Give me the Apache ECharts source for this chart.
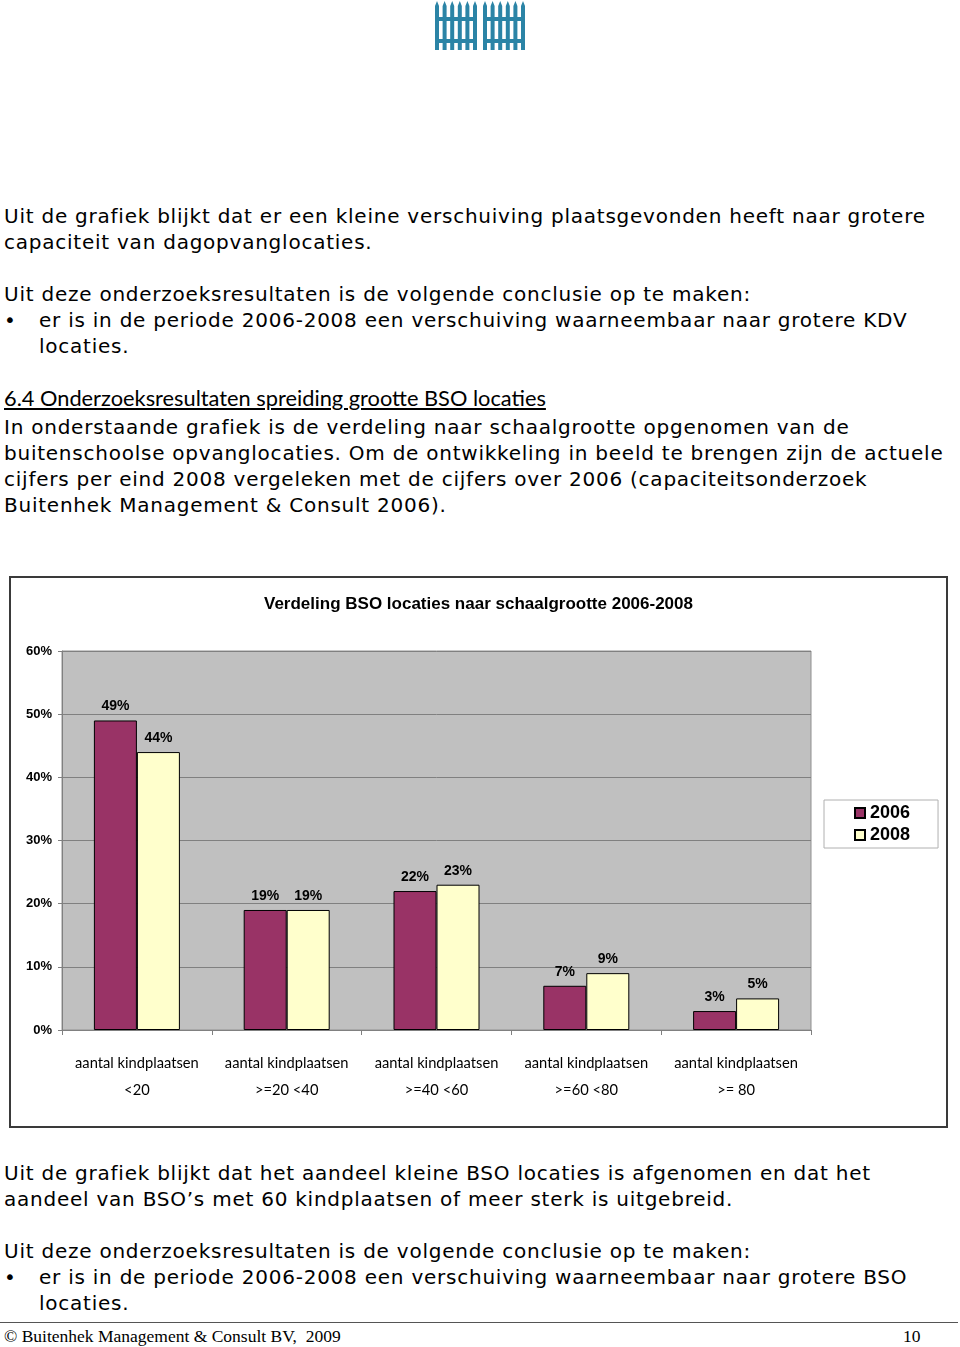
<!DOCTYPE html>
<html>
<head>
<meta charset="utf-8">
<script src="https://cdn.jsdelivr.net/npm/echarts@6/dist/echarts.min.js"></script>
<style>
  html, body { margin: 0; padding: 0; background: #fff; }
  .page { position: relative; width: 960px; height: 1347px; overflow: hidden; }
  .txt {
    position: absolute; left: 4px; white-space: nowrap;
    font-family: "DejaVu Sans", sans-serif; font-size: 20px; line-height: 26px; color: #000;
    letter-spacing: 0.76px;
  }
  .bullet { position: relative; padding-left: 35px; }
  .bullet:before { content: "\2022"; position: absolute; left: 0; }
  .kop {
    position: absolute; left: 4px; top: 385px; white-space: nowrap;
    font-family: Lato, "Open Sans", sans-serif; font-size: 21.8px; line-height: 26px;
    text-decoration: underline; color: #000;
  }
  .box { position: absolute; left: 9px; top: 576px; width: 935px; height: 548px; border: 2px solid #3a3a3a; }
  #chart { position: absolute; left: 11px; top: 578px; width: 935px; height: 548px; }
  .footline { position: absolute; left: 0; top: 1322px; width: 958px; height: 1px; background: #555; }
  .foot {
    position: absolute; top: 1325px; font-family: "Liberation Serif", serif; font-size: 17.5px; line-height: 22px;
  }
  #logo { position: absolute; left: 433px; top: 0; }
</style>
</head>
<body>
<div class="page">
  <svg id="logo" width="94" height="56"></svg>

  <div class="txt" style="top:203px">Uit de grafiek blijkt dat er een kleine verschuiving plaatsgevonden heeft naar grotere<br>capaciteit van dagopvanglocaties.</div>

  <div class="txt" style="top:281px">Uit deze onderzoeksresultaten is de volgende conclusie op te maken:
    <div class="bullet">er is in de periode 2006-2008 een verschuiving waarneembaar naar grotere KDV<br>locaties.</div>
  </div>

  <div class="kop">6.4 Onderzoeksresultaten spreiding grootte BSO locaties</div>

  <div class="txt" style="top:414px">In onderstaande grafiek is de verdeling naar schaalgrootte opgenomen van de<br>buitenschoolse opvanglocaties. Om de ontwikkeling in beeld te brengen zijn de actuele<br>cijfers per eind 2008 vergeleken met de cijfers over 2006 (capaciteitsonderzoek<br>Buitenhek Management &amp; Consult 2006).</div>

  <div class="box"></div>
  <div id="chart"></div>

  <div class="txt" style="top:1160px">Uit de grafiek blijkt dat het aandeel kleine BSO locaties is afgenomen en dat het<br>aandeel van BSO’s met 60 kindplaatsen of meer sterk is uitgebreid.</div>

  <div class="txt" style="top:1238px">Uit deze onderzoeksresultaten is de volgende conclusie op te maken:
    <div class="bullet">er is in de periode 2006-2008 een verschuiving waarneembaar naar grotere BSO<br>locaties.</div>
  </div>

  <div class="footline"></div>
  <div class="foot" style="left:4px">© Buitenhek Management &amp; Consult BV,&nbsp; 2009</div>
  <div class="foot" style="left:903px">10</div>
</div>

<script>
// data
const categories = ["<20", ">=20 <40", ">=40 <60", ">=60 <80", ">= 80"];
const categoryPrefix = "aantal kindplaatsen";
const values2006 = [49, 19, 22, 7, 3];
const values2008 = [44, 19, 23, 9, 5];
const seriesNames = ["2006", "2008"];

// logo: simpel hekje
(function () {
  const svg = document.getElementById("logo");
  let s = "";
  [2, 50].forEach(function (x0) {
    for (let i = 0; i < 6; i++) {
      const x = x0 + i * 7.6;
      s += '<rect x="' + x + '" y="6" width="4" height="44" fill="#2b84a6"/>';
      s += '<polygon points="' + x + ',6 ' + (x + 2) + ',1 ' + (x + 4) + ',6" fill="#2b84a6"/>';
    }
    s += '<rect x="' + x0 + '" y="17" width="42" height="4" fill="#2b84a6"/>';
    s += '<rect x="' + x0 + '" y="39" width="42" height="4" fill="#2b84a6"/>';
  });
  svg.innerHTML = s;
})();

const chart = echarts.init(document.getElementById("chart"));

const labelStyle = {
  show: true,
  position: "top",
  distance: 7,
  formatter: "{c}%",
  fontFamily: "Liberation Sans, Arial, sans-serif",
  fontWeight: "bold",
  fontSize: 14,
  color: "#000",
};

chart.setOption({
  animation: false,
  title: {
    text: "Verdeling BSO locaties naar schaalgrootte 2006-2008",
    left: "center",
    top: 13,
    textStyle: {
      fontFamily: "Liberation Sans, Arial, sans-serif",
      fontWeight: "bold",
      fontSize: 17,
      color: "#000",
    },
  },
  legend: {
    orient: "vertical",
    left: 813,
    top: 222,
    padding: [4, 28, 4, 30],
    itemGap: 4,
    itemWidth: 10,
    itemHeight: 10,
    borderColor: "#b0b0b0",
    borderWidth: 1,
    icon: "rect",
    data: seriesNames,
    textStyle: {
      fontFamily: "Liberation Sans, Arial, sans-serif",
      fontWeight: "bold",
      fontSize: 18,
      color: "#000",
    },
  },
  grid: {
    left: 51,
    top: 73,
    width: 749,
    height: 379,
    show: true,
    backgroundColor: "#c0c0c0",
    borderColor: "#909090",
    borderWidth: 1,
  },
  xAxis: {
    type: "category",
    data: categories,
    axisLine: { lineStyle: { color: "#808080" } },
    axisTick: { show: true, length: 5, lineStyle: { color: "#808080" } },
    axisLabel: {
      margin: 20,
      interval: 0,
      formatter: function (v) {
        return categoryPrefix + "\n" + v;
      },
      fontFamily: "Lato, sans-serif",
      fontSize: 14.7,
      lineHeight: 27,
      color: "#000",
    },
  },
  yAxis: {
    type: "value",
    min: 0,
    max: 60,
    interval: 10,
    axisLine: { show: true, lineStyle: { color: "#808080" } },
    axisTick: { show: true, length: 4, lineStyle: { color: "#808080" } },
    splitLine: { lineStyle: { color: "#808080", width: 1 } },
    axisLabel: {
      margin: 10,
      formatter: "{value}%",
      fontFamily: "Liberation Sans, Arial, sans-serif",
      fontWeight: "bold",
      fontSize: 13,
      color: "#000",
    },
  },
  series: [
    {
      name: seriesNames[0],
      type: "bar",
      data: values2006,
      barWidth: 43,
      barGap: "0%",
      itemStyle: { color: "#993366", borderColor: "#000", borderWidth: 1 },
      label: labelStyle,
    },
    {
      name: seriesNames[1],
      type: "bar",
      data: values2008,
      barWidth: 43,
      barGap: "0%",
      itemStyle: { color: "#ffffcc", borderColor: "#000", borderWidth: 1 },
      label: labelStyle,
    },
  ],
});
</script>
</body>
</html>
